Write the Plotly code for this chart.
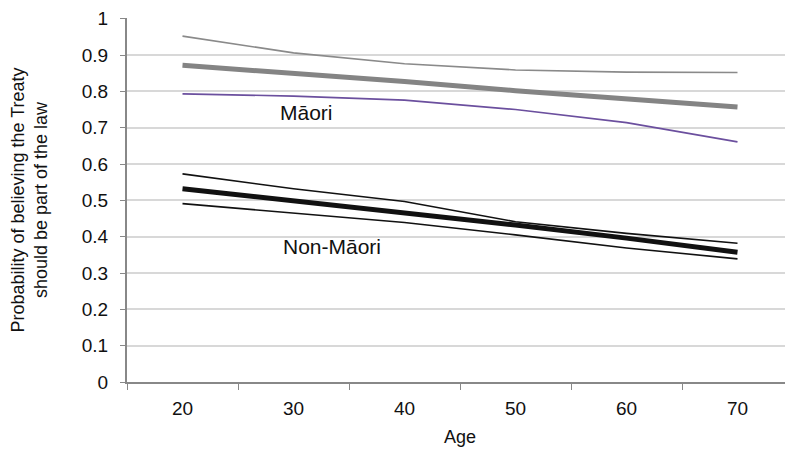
import plotly.graph_objects as go

ages = ["20", "30", "40", "50", "60", "70"]
maori_upper = [0.952, 0.906, 0.876, 0.859, 0.853, 0.852]
maori_mean = [0.872, 0.850, 0.827, 0.802, 0.779, 0.757]
maori_lower = [0.793, 0.787, 0.776, 0.750, 0.714, 0.661]
non_upper = [0.573, 0.532, 0.497, 0.441, 0.409, 0.382]
non_mean = [0.532, 0.499, 0.466, 0.432, 0.396, 0.357]
non_lower = [0.491, 0.464, 0.439, 0.405, 0.369, 0.339]

fig = go.Figure()
series = [
    (maori_upper, "#8a8a8a", 1.6),
    (maori_lower, "#6b4f9e", 1.6),
    (maori_mean, "#848484", 5),
    (non_upper, "#111111", 1.6),
    (non_lower, "#111111", 1.6),
    (non_mean, "#111111", 5),
]
for vals, col, w in series:
    fig.add_trace(go.Scatter(x=ages, y=vals, mode="lines",
                             line=dict(color=col, width=w), showlegend=False))

fig.add_annotation(x=1.12, y=0.742, text="Māori", showarrow=False,
                   font=dict(size=21, color="#111"))
fig.add_annotation(x=1.35, y=0.373, text="Non-Māori", showarrow=False,
                   font=dict(size=21, color="#111"))

fig.update_layout(
    width=785, height=443,
    margin=dict(l=119, r=0, t=10, b=69),
    plot_bgcolor="white", paper_bgcolor="white",
    font=dict(family="Liberation Sans, Arial, sans-serif", size=19, color="#111"),
    xaxis=dict(type="category", tickson="boundaries", ticks="outside", ticklen=6,
               range=[-0.5, 5.5], automargin=False, ticklabelstandoff=8,
               tickcolor="#888", showline=True, linecolor="#888", linewidth=2,
               showgrid=False, title=dict(text="Age", font=dict(size=18), standoff=13),
               tickfont=dict(size=19)),
    yaxis=dict(range=[0, 1.002], tickvals=[i / 10 for i in range(11)],
               ticktext=["0", "0.1", "0.2", "0.3", "0.4", "0.5", "0.6", "0.7", "0.8", "0.9", "1"],
               ticks="outside", ticklen=5, tickcolor="#888",
               showline=True, linecolor="#888", linewidth=2, automargin=False,
               gridcolor="#d8d8d8", gridwidth=1.5, zeroline=False,
               tickfont=dict(size=19), ticklabelstandoff=8, ticklabeloverflow="allow",
               title=dict(text="Probability of believing the Treaty<br>should be part of the law",
                          font=dict(size=18), standoff=30)),
)
fig.write_html("out.html")
